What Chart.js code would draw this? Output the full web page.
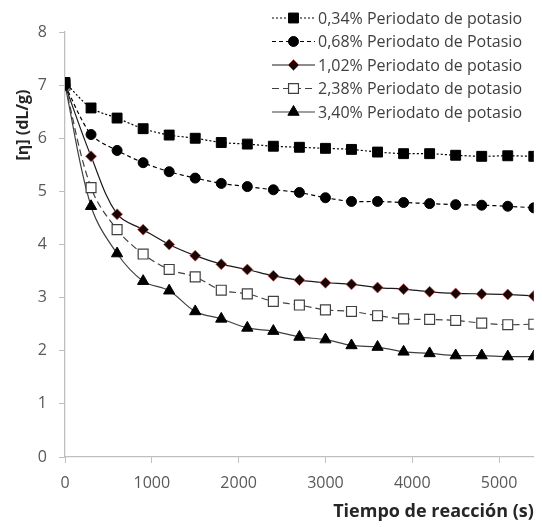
<!DOCTYPE html>
<html>
<head>
<meta charset="utf-8">
<script src="https://cdn.jsdelivr.net/npm/chart.js@4/dist/chart.umd.min.js"></script>
<style>
  html, body { margin: 0; padding: 0; background: #fff; }
  #wrap { width: 542px; height: 527px; }
</style>
</head>
<body>
<div id="wrap"><canvas id="chart" width="542" height="527"></canvas></div>
<script>
// reaction time (s)
var tiempos = [0, 300, 600, 900, 1200, 1500, 1800, 2100, 2400, 2700, 3000, 3300, 3600, 3900, 4200, 4500, 4800, 5100, 5400];

var serie034 = [7.05, 6.57, 6.38, 6.18, 6.06, 6.00, 5.92, 5.89, 5.85, 5.83, 5.81, 5.79, 5.74, 5.71, 5.71, 5.68, 5.66, 5.67, 5.66];
var serie068 = [7.00, 6.07, 5.77, 5.54, 5.37, 5.25, 5.15, 5.09, 5.03, 4.98, 4.88, 4.81, 4.81, 4.79, 4.77, 4.75, 4.74, 4.72, 4.69];
var serie102 = [7.00, 5.66, 4.57, 4.28, 4.00, 3.79, 3.63, 3.53, 3.41, 3.33, 3.28, 3.25, 3.19, 3.16, 3.11, 3.08, 3.07, 3.06, 3.03];
var serie238 = [7.00, 5.07, 4.28, 3.82, 3.53, 3.39, 3.14, 3.07, 2.93, 2.86, 2.77, 2.74, 2.66, 2.60, 2.59, 2.57, 2.52, 2.49, 2.50];
var serie340 = [7.00, 4.72, 3.83, 3.31, 3.13, 2.74, 2.60, 2.43, 2.37, 2.26, 2.21, 2.10, 2.07, 1.98, 1.95, 1.91, 1.91, 1.89, 1.89];

var etiquetas = ['0,34% Periodato de potasio', '0,68% Periodato de Potasio', '1,02% Periodato de potasio', '2,38% Periodato de potasio', '3,40% Periodato de potasio'];

var xTicks = [0, 1000, 2000, 3000, 4000, 5000];
var yTicks = [0, 1, 2, 3, 4, 5, 6, 7, 8];

function puntos(valores) {
  return valores.map(function (v, i) { return { x: tiempos[i], y: v }; });
}

var fuente = "'Open Sans', sans-serif";

// legend drawn inside the plot, top right (like the Excel one)
var leyenda = {
  id: 'leyenda',
  afterDraw: function (chart) {
    var ctx = chart.ctx;
    ctx.save();
    chart.data.datasets.forEach(function (ds, i) {
      var y = 18 + i * 23.5;
      ctx.strokeStyle = ds.borderColor;
      ctx.lineWidth = ds.borderWidth;
      ctx.setLineDash(ds.borderDash || []);
      ctx.beginPath();
      ctx.moveTo(272, y);
      ctx.lineTo(315, y);
      ctx.stroke();
      ctx.setLineDash([]);
      ctx.fillStyle = ds.pointBackgroundColor;
      ctx.strokeStyle = ds.pointBorderColor;
      ctx.lineWidth = ds.pointBorderWidth;
      Chart.helpers.drawPoint(ctx, {
        pointStyle: ds.pointStyle,
        radius: ds.pointRadius,
        rotation: 0,
        borderWidth: ds.pointBorderWidth
      }, 293.5, y);
      ctx.fillStyle = '#404040';
      ctx.font = '16px ' + fuente;
      ctx.textAlign = 'left';
      ctx.textBaseline = 'middle';
      ctx.fillText(ds.label, 318, y + 1);
    });
    ctx.restore();
  }
};

// y axis title sits high, next to the top of the axis
var tituloY = {
  id: 'tituloY',
  afterDraw: function (chart) {
    var ctx = chart.ctx;
    ctx.save();
    ctx.translate(23, 125);
    ctx.rotate(-Math.PI / 2);
    ctx.fillStyle = '#262626';
    ctx.font = 'bold 16px ' + fuente;
    ctx.textAlign = 'center';
    ctx.textBaseline = 'middle';
    ctx.fillText('[η] (dL/g)', 0, 0);
    ctx.restore();
  }
};

var data = {
  datasets: [
    {
      label: etiquetas[0],
      data: puntos(serie034),
      borderColor: '#000000',
      borderWidth: 1.2,
      borderDash: [2, 2],
      pointStyle: 'rect',
      pointRadius: 7,
      pointBackgroundColor: '#000000',
      pointBorderColor: '#000000',
      pointBorderWidth: 1,
      tension: 0.3
    },
    {
      label: etiquetas[1],
      data: puntos(serie068),
      borderColor: '#000000',
      borderWidth: 1.2,
      borderDash: [4, 3],
      pointStyle: 'circle',
      pointRadius: 5,
      pointBackgroundColor: '#000000',
      pointBorderColor: '#000000',
      pointBorderWidth: 1,
      tension: 0.3
    },
    {
      label: etiquetas[2],
      data: puntos(serie102),
      borderColor: '#1a1a1a',
      borderWidth: 1.2,
      borderDash: [],
      pointStyle: 'rectRot',
      pointRadius: 5.5,
      pointBackgroundColor: '#1a0505',
      pointBorderColor: 'rgba(200,90,90,0.7)',
      pointBorderWidth: 1,
      tension: 0.35
    },
    {
      label: etiquetas[3],
      data: puntos(serie238),
      borderColor: '#404040',
      borderWidth: 1.2,
      borderDash: [7, 4],
      pointStyle: 'rect',
      pointRadius: 7,
      pointBackgroundColor: '#ffffff',
      pointBorderColor: '#404040',
      pointBorderWidth: 1.2,
      tension: 0.35
    },
    {
      label: etiquetas[4],
      data: puntos(serie340),
      borderColor: '#404040',
      borderWidth: 1.2,
      borderDash: [],
      pointStyle: 'triangle',
      pointRadius: 6.5,
      pointBackgroundColor: '#000000',
      pointBorderColor: '#000000',
      pointBorderWidth: 1,
      tension: 0.35
    }
  ]
};

var options = {
  responsive: false,
  animation: false,
  layout: { padding: { top: 32, right: 4, left: 0, bottom: 0 } },
  plugins: {
    legend: { display: false },
    tooltip: { enabled: false }
  },
  scales: {
    x: {
      type: 'linear',
      min: 0,
      max: 5400,
      afterBuildTicks: function (s) { s.ticks = xTicks.map(function (v) { return { value: v }; }); },
      afterFit: function (s) { s.height = 70; },
      grid: { drawOnChartArea: false, drawTicks: true, tickLength: 6, color: '#bfbfbf' },
      border: { color: '#bfbfbf', width: 1.3 },
      ticks: {
        color: '#595959',
        font: { family: fuente, size: 16 },
        padding: 11,
        maxRotation: 0,
        callback: function (v) { return String(v); }
      },
      title: {
        display: true,
        text: 'Tiempo de reacción (s)',
        align: 'end',
        color: '#262626',
        font: { family: fuente, size: 18, weight: 'bold' },
        padding: { top: 6 }
      }
    },
    y: {
      min: 0,
      max: 8,
      afterBuildTicks: function (s) { s.ticks = yTicks.map(function (v) { return { value: v }; }); },
      afterFit: function (s) { s.width = 65; },
      grid: { drawOnChartArea: false, drawTicks: true, tickLength: 6, color: '#bfbfbf' },
      border: { color: '#bfbfbf', width: 1.3 },
      ticks: {
        color: '#595959',
        font: { family: fuente, size: 16 },
        padding: 12,
        callback: function (v) { return String(v); }
      }
    }
  },
  elements: { line: { fill: false } }
};

new Chart(document.getElementById('chart'), {
  type: 'line',
  data: data,
  options: options,
  plugins: [leyenda, tituloY]
});
</script>
</body>
</html>
